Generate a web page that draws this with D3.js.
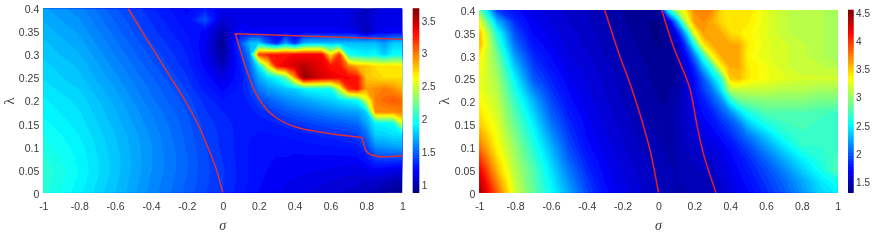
<!DOCTYPE html>
<html><head><meta charset="utf-8">
<script src="https://cdnjs.cloudflare.com/ajax/libs/d3/7.8.5/d3.min.js"></script>
<style>
html,body{margin:0;padding:0;background:#fff}
svg{display:block}
text{font-family:"Liberation Sans",sans-serif;fill:#3a3a3a}
</style></head><body><svg id="c" width="872" height="240"></svg>
<script>
const lambdaRows=[.4,.375,.35,.325,.3,.275,.25,.225,.2,.175,.15,.125,.1,.075,.05,.025,0];
const leftSigma=[-1,-.8,-.6,-.4,-.2,-.1,0,.1,.15,.2,.25,.3,.35,.4,.45,.5,.55,.6,.65,.7,.75,.8,.85,.9,.95,1];
const leftValues=[
[1.68,1.60,1.46,1.33,1.22,1.30,1.17,1.15,1.15,1.15,1.15,1.15,1.15,1.15,1.15,1.15,1.15,1.15,1.15,1.15,1.13,1.02,1.12,1.15,1.15,1.15],
[1.71,1.63,1.49,1.36,1.24,1.45,1.10,1.17,1.17,1.17,1.17,1.17,1.17,1.17,1.17,1.17,1.17,1.17,1.17,1.15,1.08,1.08,1.15,1.17,1.17,1.17],
[1.74,1.66,1.52,1.38,1.27,1.22,1.00,1.25,1.20,1.20,1.20,1.20,1.20,1.20,1.20,1.20,1.20,1.20,1.20,1.20,1.15,1.02,1.15,1.20,1.20,1.20],
[1.77,1.69,1.55,1.41,1.30,1.20,0.93,1.45,1.75,1.80,1.50,1.30,1.65,1.35,1.70,1.75,1.75,1.75,1.75,1.75,1.75,1.75,1.75,1.65,1.80,1.80],
[1.79,1.72,1.58,1.44,1.32,1.20,0.97,1.35,1.60,3.15,3.25,3.30,3.30,3.35,3.35,3.35,3.35,2.70,3.20,2.00,1.95,1.90,1.95,1.80,1.95,1.95],
[1.82,1.75,1.61,1.47,1.34,1.22,1.05,1.30,1.50,1.90,2.60,3.30,3.40,3.45,3.55,3.45,3.40,3.30,3.30,3.00,2.85,2.80,2.72,2.72,2.70,2.70],
[1.84,1.77,1.64,1.50,1.37,1.27,1.15,1.28,1.42,1.70,1.85,1.95,2.20,2.90,3.65,3.55,3.45,3.40,3.35,3.35,3.30,2.80,2.75,2.72,2.72,2.72],
[1.87,1.80,1.67,1.53,1.40,1.30,1.22,1.30,1.38,1.55,1.65,1.72,1.78,1.80,1.90,1.95,1.95,1.95,2.50,3.20,3.30,2.90,2.95,3.00,2.95,2.85],
[1.90,1.83,1.70,1.55,1.43,1.35,1.28,1.30,1.33,1.42,1.48,1.54,1.60,1.65,1.68,1.72,1.76,1.80,1.85,1.90,1.95,2.50,3.00,3.05,3.10,3.05],
[1.92,1.85,1.72,1.58,1.45,1.37,1.32,1.30,1.30,1.33,1.37,1.41,1.45,1.49,1.52,1.55,1.58,1.61,1.64,1.66,1.68,1.80,2.95,2.95,2.95,3.00],
[1.95,1.87,1.74,1.60,1.47,1.39,1.34,1.30,1.29,1.29,1.30,1.32,1.34,1.36,1.38,1.41,1.43,1.45,1.47,1.49,1.52,1.68,1.90,1.92,1.95,2.55],
[1.98,1.89,1.76,1.62,1.48,1.40,1.35,1.30,1.28,1.27,1.27,1.27,1.28,1.29,1.30,1.31,1.33,1.34,1.35,1.37,1.40,1.52,1.80,1.82,1.85,1.85],
[2.00,1.91,1.77,1.63,1.49,1.41,1.35,1.30,1.27,1.26,1.25,1.25,1.25,1.25,1.26,1.26,1.27,1.27,1.28,1.29,1.30,1.40,1.62,1.65,1.68,1.70],
[2.03,1.92,1.78,1.63,1.50,1.42,1.36,1.30,1.27,1.25,1.24,1.23,1.23,1.22,1.22,1.22,1.22,1.22,1.22,1.22,1.23,1.28,1.40,1.42,1.42,1.42],
[2.06,1.93,1.78,1.63,1.50,1.42,1.37,1.30,1.27,1.25,1.23,1.22,1.21,1.20,1.20,1.19,1.19,1.18,1.18,1.17,1.17,1.18,1.22,1.20,1.18,1.15],
[2.05,1.92,1.77,1.62,1.49,1.42,1.37,1.30,1.27,1.24,1.22,1.20,1.19,1.18,1.17,1.16,1.15,1.14,1.13,1.12,1.11,1.10,1.10,1.07,1.03,1.00],
[2.04,1.90,1.76,1.61,1.48,1.41,1.36,1.29,1.26,1.23,1.21,1.19,1.18,1.16,1.15,1.14,1.13,1.12,1.10,1.09,1.08,1.05,1.02,0.98,0.95,0.93]];
const rightSigma=[-1,-.9,-.8,-.7,-.6,-.5,-.4,-.3,-.2,-.1,0,.05,.1,.15,.2,.25,.3,.35,.4,.45,.5,.6,.7,.8,.9,1];
const rightValues=[
[2.90,1.90,1.75,1.65,1.60,1.55,1.52,1.47,1.42,1.38,1.42,2.50,3.10,3.40,3.70,3.75,3.70,3.45,3.40,3.40,3.45,3.25,3.15,3.10,3.10,3.05],
[3.30,2.30,1.85,1.68,1.62,1.57,1.53,1.48,1.43,1.38,1.36,1.50,2.20,3.10,3.65,3.70,3.60,3.45,3.40,3.40,3.40,3.25,3.15,3.10,3.10,3.05],
[3.55,2.60,1.95,1.72,1.65,1.59,1.55,1.50,1.45,1.39,1.35,1.42,1.70,2.30,3.30,3.65,3.60,3.60,3.45,3.40,3.35,3.25,3.15,3.10,3.10,3.05],
[3.60,2.75,2.05,1.78,1.68,1.60,1.56,1.51,1.46,1.41,1.36,1.40,1.50,1.90,2.60,3.40,3.60,3.60,3.60,3.60,3.40,3.25,3.20,3.15,3.10,3.05],
[3.40,2.90,2.20,1.85,1.72,1.62,1.58,1.52,1.47,1.42,1.38,1.38,1.45,1.70,2.10,2.70,3.35,3.60,3.60,3.60,3.35,3.25,3.20,3.15,3.10,3.05],
[3.35,2.98,2.35,1.92,1.76,1.65,1.60,1.54,1.49,1.44,1.39,1.38,1.42,1.60,1.85,2.30,2.70,3.35,3.60,3.60,3.40,3.30,3.20,3.15,3.15,3.10],
[3.30,3.05,2.50,2.00,1.82,1.68,1.62,1.56,1.50,1.44,1.40,1.40,1.42,1.55,1.75,2.00,2.35,2.70,3.50,3.55,3.40,3.30,3.25,3.20,3.20,3.20],
[3.30,3.10,2.60,2.15,1.88,1.72,1.63,1.57,1.51,1.45,1.41,1.41,1.44,1.55,1.72,1.90,2.10,2.45,3.10,3.15,3.15,3.15,3.10,3.10,3.05,3.05],
[3.35,3.15,2.70,2.30,1.95,1.75,1.65,1.58,1.52,1.46,1.42,1.42,1.46,1.55,1.68,1.80,1.95,2.15,2.55,2.85,2.90,2.95,2.95,2.95,2.90,2.90],
[3.42,3.20,2.78,2.40,2.02,1.80,1.67,1.60,1.54,1.48,1.43,1.44,1.48,1.55,1.65,1.74,1.82,1.98,2.15,2.40,2.60,2.78,2.78,2.78,2.75,2.72],
[3.50,3.25,2.85,2.50,2.10,1.85,1.70,1.62,1.55,1.49,1.45,1.45,1.48,1.54,1.62,1.68,1.75,1.85,1.95,2.10,2.35,2.60,2.72,2.75,2.72,2.70],
[3.65,3.30,2.92,2.58,2.20,1.90,1.72,1.63,1.57,1.50,1.46,1.45,1.48,1.53,1.59,1.64,1.68,1.76,1.85,1.97,2.10,2.38,2.62,2.72,2.70,2.70],
[3.80,3.35,3.00,2.65,2.30,1.95,1.75,1.65,1.58,1.52,1.48,1.46,1.47,1.52,1.56,1.60,1.62,1.68,1.75,1.85,1.95,2.20,2.45,2.68,2.68,2.70],
[4.00,3.45,3.05,2.72,2.38,2.02,1.80,1.67,1.60,1.54,1.49,1.47,1.47,1.50,1.53,1.56,1.58,1.64,1.70,1.77,1.85,2.05,2.28,2.50,2.65,2.75],
[4.20,3.55,3.10,2.80,2.45,2.10,1.85,1.70,1.62,1.55,1.50,1.48,1.47,1.49,1.51,1.53,1.55,1.61,1.67,1.73,1.80,1.95,2.15,2.38,2.58,2.80],
[4.35,3.70,3.15,2.82,2.50,2.18,1.90,1.72,1.63,1.57,1.51,1.49,1.47,1.48,1.49,1.50,1.52,1.58,1.65,1.70,1.75,1.90,2.05,2.25,2.45,2.60],
[4.45,3.85,3.20,2.85,2.55,2.25,1.95,1.75,1.65,1.58,1.52,1.50,1.47,1.47,1.48,1.49,1.50,1.56,1.62,1.67,1.72,1.85,2.00,2.20,2.40,2.50]];
const leftCurveA=[[-.527,.4],[-.45,.35],[-.37,.3],[-.29,.25],[-.21,.2],[-.14,.15],[-.085,.1],[-.035,.05],[0,0]];
const leftCurveB=[[1,.333],[.07,.345],[.125,.275],[.17,.227],[.225,.19],[.29,.165],[.39,.145],[.54,.132],[.775,.12],[.8,.09],[.83,.082],[.895,.078],[1,.08]];
const rightCurveA=[[-.3,.4],[-.215,.298],[-.16,.24],[-.105,.174],[-.047,.093],[0,0]];
const rightCurveB=[[.018,.4],[.083,.32],[.172,.232],[.213,.152],[.25,.086],[.321,0]];
const sigmaTicks=[-1,-.8,-.6,-.4,-.2,0,.2,.4,.6,.8,1];
const lambdaTicks=[0,.05,.1,.15,.2,.25,.3,.35,.4];
const leftBarTicks=[1,1.5,2,2.5,3,3.5];
const rightBarTicks=[1.5,2,2.5,3,3.5,4,4.5];
const sigmaName="σ", lambdaName="λ";
const levels=64;

function jet(t){
  const c=v=>Math.round(255*Math.max(0,Math.min(1,v)));
  return `rgb(${c(1.5-Math.abs(4*t-3))},${c(1.5-Math.abs(4*t-2))},${c(1.5-Math.abs(4*t-1))})`;
}
const svg=d3.select("#c");
const defs=svg.append("defs");
defs.append("filter").attr("id","soft").attr("x","-5%").attr("y","-5%").attr("width","110%").attr("height","110%")
  .append("feGaussianBlur").attr("stdDeviation",0.55);
defs.append("filter").attr("id","softText").attr("x","-10%").attr("y","-10%").attr("width","120%").attr("height","120%")
  .append("feGaussianBlur").attr("stdDeviation",0.3);

function panel(o){
  const x=d3.scaleLinear().domain([-1,1]).range([o.x0,o.x1]);
  const y=d3.scaleLinear().domain([0,.4]).range([o.y1,o.y0]);
  const n=o.sigma.length,m=lambdaRows.length;
  const ix=d3.scaleLinear().domain(d3.range(n)).range(o.sigma.map(x)).clamp(true);
  const iy=d3.scaleLinear().domain(d3.range(m)).range(lambdaRows.map(y)).clamp(true);
  const flat=o.values.flat();
  const thresholds=d3.range(levels).map(i=>o.dmin+(o.dmax-o.dmin)*i/levels);
  const contours=d3.contours().size([n,m]).thresholds(thresholds)(flat);
  const path=d3.geoPath(d3.geoTransform({point(a,b){this.stream.point(ix(a-.5),iy(b-.5));}}));
  const clipId="clip"+o.id;
  defs.append("clipPath").attr("id",clipId).append("rect")
    .attr("x",o.x0).attr("y",o.y0).attr("width",o.x1-o.x0).attr("height",o.y1-o.y0);
  const g=svg.append("g").attr("filter","url(#soft)");
  const plot=g.append("g").attr("clip-path",`url(#${clipId})`);
  plot.append("rect").attr("x",o.x0).attr("y",o.y0).attr("width",o.x1-o.x0).attr("height",o.y1-o.y0).attr("fill",jet(0));
  plot.selectAll("path.c").data(contours).join("path").attr("class","c")
    .attr("d",path).attr("fill",(d,i)=>jet((i+.5)/levels));
  const line=d3.line().x(d=>x(d[0])).y(d=>y(d[1])).curve(d3.curveCatmullRom.alpha(.5));
  const straight=d3.line().x(d=>x(d[0])).y(d=>y(d[1]));
  const mono=d3.line().x(d=>x(d[0])).y(d=>y(d[1])).curve(d3.curveMonotoneX);
  o.curves.forEach(c=>{
    let dStr;
    if(c===leftCurveB){
      dStr=straight(c.slice(0,2))+mono(c.slice(1,9)).replace(/^M/,"L")+mono(c.slice(8)).replace(/^M/,"L");
    } else dStr=line(c);
    plot.append("path").attr("d",dStr).attr("fill","none").attr("stroke",o.lineColor).attr("stroke-width",1.5);
  });
  // colour bar
  const bar=d3.scaleLinear().domain([o.dmin,o.dmax]).range([o.y1,o.y0]);
  const barG=svg.append("g").attr("filter","url(#soft)");
  barG.selectAll("rect").data(d3.range(levels)).join("rect")
    .attr("x",o.bx0).attr("width",o.bx1-o.bx0)
    .attr("y",i=>bar(o.dmin+(o.dmax-o.dmin)*(i+1)/levels)-.3)
    .attr("height",i=>bar(o.dmin+(o.dmax-o.dmin)*i/levels)-bar(o.dmin+(o.dmax-o.dmin)*(i+1)/levels)+.6)
    .attr("fill",i=>jet((i+.5)/levels));
  const tg=svg.append("g").attr("filter","url(#softText)");
  const style=(a,size)=>{a.select(".domain").remove();a.selectAll("line").remove();a.selectAll("text").attr("font-size",size);};
  tg.append("g").attr("transform",`translate(0,${o.y1})`)
    .call(d3.axisBottom(x).tickValues(sigmaTicks).tickSize(0).tickPadding(10).tickFormat(d=>String(+d.toFixed(1))))
    .call(a=>style(a,o.fs));
  tg.append("g").attr("transform",`translate(${o.x0},1)`)
    .call(d3.axisLeft(y).tickValues(lambdaTicks).tickSize(0).tickPadding(4).tickFormat(d=>String(+d.toFixed(2))))
    .call(a=>style(a,o.fs));
  tg.append("g").attr("transform",`translate(${o.bx1},0)`)
    .call(d3.axisRight(bar).tickValues(o.barTicks).tickSize(0).tickPadding(2.4).tickFormat(d=>String(d)))
    .call(a=>style(a,o.fs-.5));
  tg.append("text").attr("x",(o.x0+o.x1)/2).attr("y",230).attr("text-anchor","middle")
    .attr("font-size",14).attr("font-style","italic").style("font-family","'Liberation Serif',serif").text(sigmaName);
  tg.append("text").attr("transform",`translate(${o.lx},101) rotate(-90)`).attr("text-anchor","middle")
    .attr("font-size",15).style("font-family","'Liberation Serif',serif").text(lambdaName);
}
panel({id:"L",x0:43.3,x1:402.3,y0:8.5,y1:192.7,bx0:412.7,bx1:419.3,sigma:leftSigma,values:leftValues,dmin:.88,dmax:3.69,
  curves:[leftCurveA,leftCurveB],barTicks:leftBarTicks,lx:14,lineColor:"#d8303c",fs:10.5});
panel({id:"R",x0:479.3,x1:837.7,y0:10,y1:192.7,bx0:848,bx1:853.7,sigma:rightSigma,values:rightValues,dmin:1.32,dmax:4.55,
  curves:[rightCurveA,rightCurveB],barTicks:rightBarTicks,lx:449,lineColor:"#e0202c",fs:10.5});
</script></body></html>
